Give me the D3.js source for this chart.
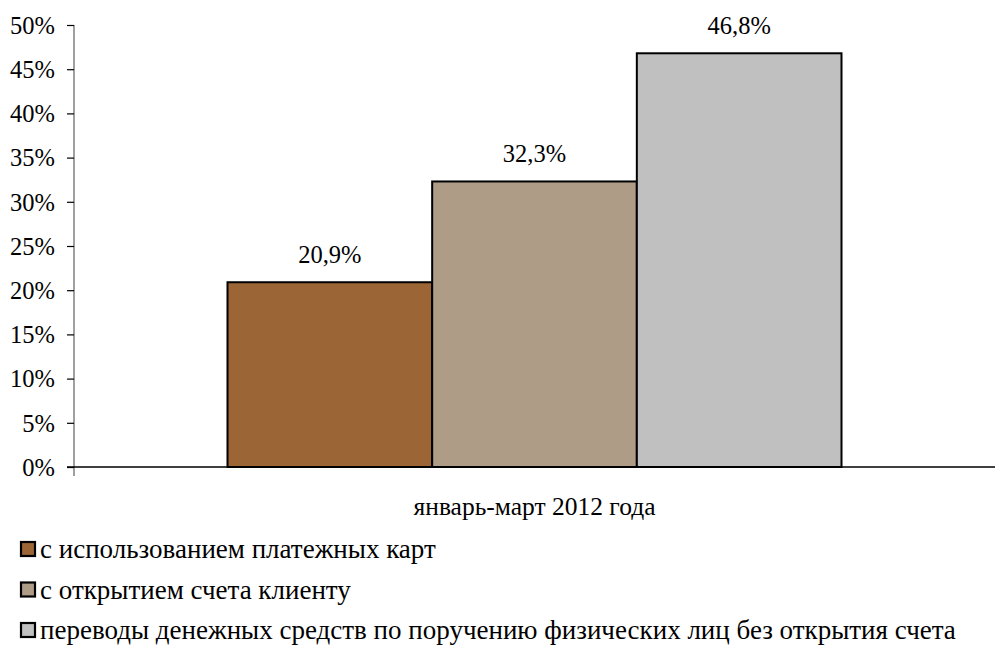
<!DOCTYPE html>
<html><head><meta charset="utf-8">
<script src="https://cdn.jsdelivr.net/npm/d3@7"></script>
</head><body style="margin:0">
<script>
const categories = ["январь-март 2012 года"];
const seriesNames = ["с использованием платежных карт","с открытием счета клиенту","переводы денежных средств по поручению физических лиц без открытия счета"];
const seriesValues = [20.9, 32.3, 46.8];
const seriesColors = ["#9C6535","#AE9C86","#C0C0C0"];
const yTicks = [0,5,10,15,20,25,30,35,40,45,50];

const FF='"Liberation Serif"';
const W=995,H=646;
const svg=d3.select("body").append("svg").attr("width",W).attr("height",H);
const pL=74,pR=995,pT=25,pB=467;
const y=d3.scaleLinear().domain([0,50]).range([pB,pT]);
const x0=d3.scaleBand().domain(categories).range([pL,pR]).paddingInner(0).paddingOuter(0.25);
const x1=d3.scaleBand().domain(seriesNames).range([0,x0.bandwidth()]);
function T(sel,fs){ return sel.attr("font-family","Liberation Serif").style("font-family",FF).style("font-size",fs+"px").attr("fill","#000"); }

// y axis
const yAxis=svg.append("g").attr("transform",`translate(${pL},0)`)
  .call(d3.axisLeft(y).tickValues(yTicks).tickSize(7).tickFormat(d=>d+"%"));
yAxis.attr("font-family","Liberation Serif").attr("font-size",24.5);
yAxis.select(".domain").attr("stroke","#808080").attr("stroke-width",1.5).attr("d",`M0,${pT}V${pB+9}`);
yAxis.selectAll(".tick line").attr("stroke","#000").attr("stroke-width",1.2);
T(yAxis.selectAll(".tick text").attr("x",-19).attr("dy","0.34em"),24.5);

// bars
const g=svg.append("g");
categories.forEach(c=>{
  seriesNames.forEach((s,i)=>{
    const bx=x0(c)+x1(s), bw=x1.bandwidth();
    g.append("rect").attr("x",bx).attr("y",y(seriesValues[i])).attr("width",bw)
      .attr("height",y(0)-y(seriesValues[i])).attr("fill",seriesColors[i])
      .attr("stroke","#000").attr("stroke-width",2);
    T(g.append("text").attr("x",bx+bw/2).attr("y",y(seriesValues[i])-19)
      .attr("text-anchor","middle"),24.5)
      .text(String(seriesValues[i]).replace(".",",")+"%");
  });
  T(svg.append("text").attr("x",x0(c)+x0.bandwidth()/2).attr("y",515)
    .attr("text-anchor","middle"),25.5).text(c);
});

// x axis line
svg.append("line").attr("x1",pL-7).attr("x2",pR).attr("y1",y(0)).attr("y2",y(0))
  .attr("stroke","#000").attr("stroke-width",1.5);

// legend
const leg=svg.append("g");
seriesNames.forEach((s,i)=>{
  const base=558+i*40.5;
  leg.append("rect").attr("x",21).attr("y",base-16).attr("width",14).attr("height",14)
    .attr("fill",seriesColors[i]).attr("stroke","#000").attr("stroke-width",2.2);
  T(leg.append("text").attr("x",40).attr("y",base),27).text(s);
});
</script>
</body></html>
